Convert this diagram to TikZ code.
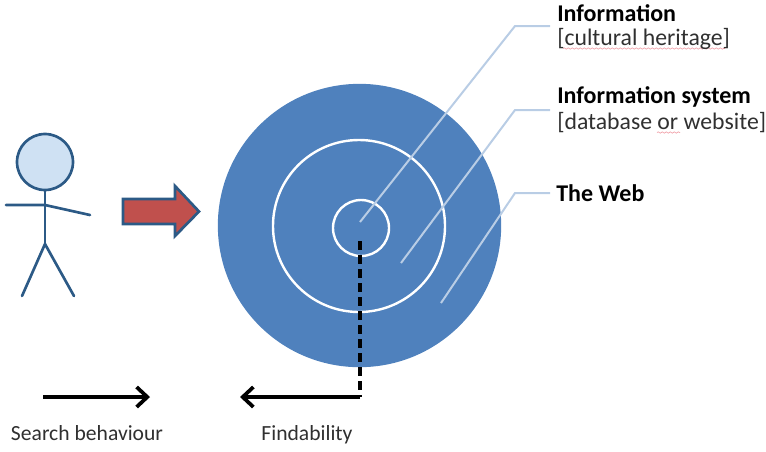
\documentclass[tikz,border=0pt]{standalone}
\usepackage{fontspec}
\setmainfont{Carlito}
\usetikzlibrary{arrows.meta,decorations.pathmorphing}
\definecolor{discblue}{HTML}{4F81BD}
\definecolor{figline}{HTML}{2C5A86}
\definecolor{figfill}{HTML}{CFE1F3}
\definecolor{leader}{HTML}{B9CDE5}
\definecolor{redfill}{HTML}{C0504D}
\definecolor{labelink}{HTML}{303030}
\definecolor{squiggle}{HTML}{F0A0A8}
\tikzset{
  x=0.75pt,y=-0.75pt,
  figure/.style={draw=figline,line width=2pt,line cap=round},
  ring/.style={circle,draw=white,line width=1.8pt,inner sep=0pt},
  leaderline/.style={draw=leader,line width=1.5pt},
  bigarrow/.style={draw=black,line width=2.8pt,-{Straight Barb[length=8pt,width=15pt,line width=2.8pt]}},
  title/.style={font=\bfseries\fontsize{18}{20}\selectfont,anchor=west,inner sep=0pt,text=black},
  sub/.style={font=\fontsize{17.8}{20}\selectfont,anchor=west,inner sep=0pt,text=labelink},
  caption/.style={font=\fontsize{16.2}{18}\selectfont,inner sep=0pt,text=labelink,anchor=base},
  spell/.style={draw=squiggle,line width=0.5pt,decorate,decoration={snake,amplitude=0.5pt,segment length=3pt}},
}
\begin{document}
\begin{tikzpicture}
\useasboundingbox (0,0) rectangle (766,451);
% disc and rings
\node[circle,fill=discblue,minimum size=212.5pt,inner sep=0pt] (web) at (359.5,225.5) {};
\node[ring,minimum size=129pt] (system) at (359,226) {};
\node[ring,minimum size=42pt] (info) at (361,228) {};
% leader lines
\coordinate (a1) at (360,222);
\coordinate (a2) at (401,263);
\coordinate (a3) at (441,303);
\coordinate (e1) at (550,26);
\coordinate (e2) at (550,110);
\coordinate (e3) at (550,193);
\draw[leaderline] (a1) -- (515,26) -- (e1);
\draw[leaderline] (a2) -- (515,110) -- (e2);
\draw[leaderline] (a3) -- (515,193) -- (e3);
% spell-check marks
\draw[spell] (563,48.5) -- (725,48.5);
\draw[spell] (657,132.5) -- (680,132.5);
% labels
\node[title] (t1) at (557,13) {Information};
\node[sub] (s1) at (557,39) {[cultural heritage]};
\node[title] (t2) at (557,97) {Information system};
\node[sub] (s2) at (557,123) {[database or website]};
\node[title] (t3) at (556,193) {The Web};
% stick figure
\node[circle,draw=figline,fill=figfill,line width=2pt,minimum size=42pt,inner sep=0pt] (head) at (45,162) {};
\coordinate (hip) at (45,244);
\coordinate (neck) at (45,205);
\draw[figure] (head.south) -- (hip);
\draw[figure] (6,205) -- (neck) -- (90,215);
\draw[figure] (22,296) -- (hip) -- (74,296);
% red arrow
\draw[draw=figline,fill=redfill,line width=2pt,line join=miter]
  (123,199) -- (175,199) -- (175,186) -- (199,211.5) -- (175,236) -- (175,224) -- (123,224) -- cycle;
% bottom arrows
\coordinate (sb1) at (43,397);
\coordinate (sb2) at (150,397);
\coordinate (corner) at (360,397);
\coordinate (fb) at (240,397);
\draw[bigarrow] (sb1) -- (sb2);
\draw[draw=black,line width=2.4pt,dash pattern=on 6.5pt off 4pt] (info.center) ++(-1,13) -- (corner);
\draw[bigarrow] (corner) -- (fb);
\node[caption] (c1) at (87,440) {Search behaviour};
\node[caption] (c2) at (307,440) {Findability};
\end{tikzpicture}
\end{document}
